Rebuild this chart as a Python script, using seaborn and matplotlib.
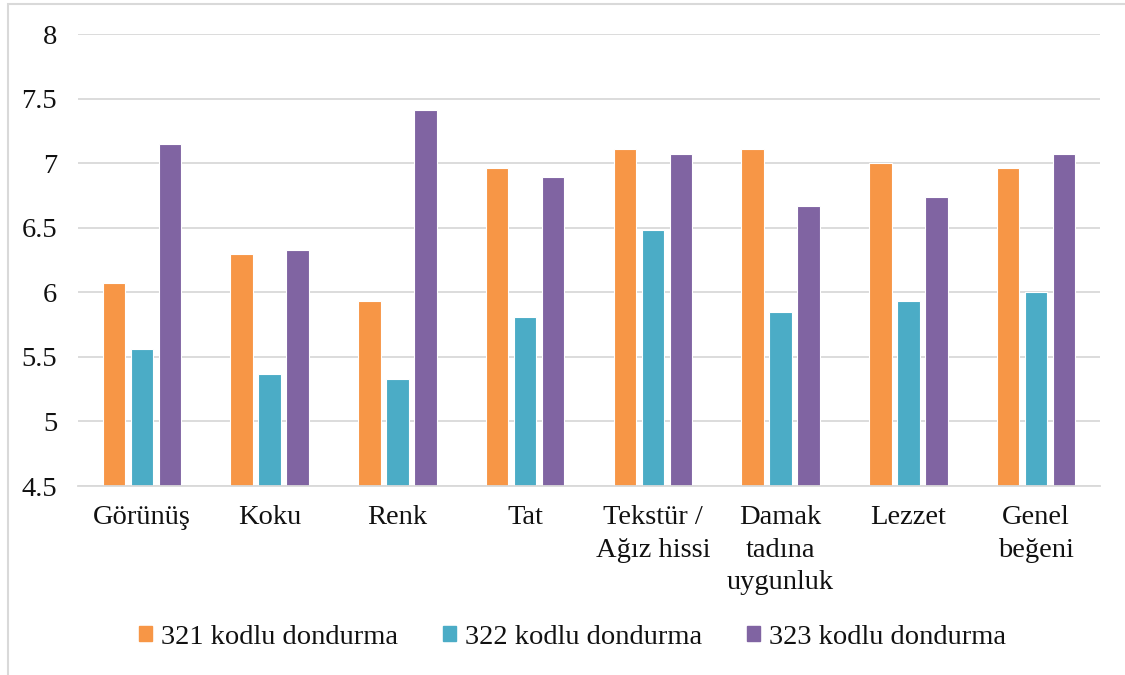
import pandas as pd
import numpy as np
import matplotlib.pyplot as plt
import matplotlib.patches as mpatches
import seaborn as sns

# ---- data ----
categories = ["Görünüş", "Koku", "Renk", "Tat", "Tekstür /\nAğız hissi",
              "Damak\ntadına\nuygunluk", "Lezzet", "Genel\nbeğeni"]
series_names = ["321 kodlu dondurma", "322 kodlu dondurma", "323 kodlu dondurma"]
vals_321 = [6.07, 6.30, 5.93, 6.96, 7.11, 7.11, 7.00, 6.96]
vals_322 = [5.56, 5.37, 5.33, 5.81, 6.48, 5.85, 5.93, 6.00]
vals_323 = [7.15, 6.33, 7.41, 6.89, 7.07, 6.67, 6.74, 7.07]
y_ticks = [4.5, 5, 5.5, 6, 6.5, 7, 7.5, 8]

colors = ["#F79646", "#4BACC6", "#8064A2"]

df = pd.DataFrame({
    "kategori": categories * 3,
    "seri": np.repeat(series_names, len(categories)),
    "deger": vals_321 + vals_322 + vals_323,
})

sns.set_theme(style="white")
plt.rcParams["font.family"] = ["Liberation Serif", "DejaVu Serif"]
FS = 20.5

fig = plt.figure(figsize=(11.25, 6.75), dpi=100)
ax = fig.add_axes([78 / 1125, 1 - 486 / 675, 1022 / 1125, 452 / 675])

sns.barplot(data=df, x="kategori", y="deger", hue="seri",
            palette=colors, saturation=1, width=0.66, gap=0.2, ax=ax,
            edgecolor="white", linewidth=0.8, legend=False)

ax.set_ylim(4.5, 8)
ax.set_xlim(-0.5, len(categories) - 0.5)
ax.set_yticks(y_ticks)
ax.set_yticklabels([f"{t:g}" for t in y_ticks])
ax.yaxis.grid(True, color="#D9D9D9", lw=1.3)
ax.set_axisbelow(True)
for s in ["top", "right", "left"]:
    ax.spines[s].set_visible(False)
ax.spines["bottom"].set_color("#D9D9D9")
ax.spines["bottom"].set_linewidth(1.3)
ax.tick_params(axis="y", length=0, pad=15, labelsize=FS, colors="#111111")
ax.tick_params(axis="x", length=0, pad=14, labelsize=FS, colors="#111111")
for lbl in ax.get_xticklabels():
    lbl.set_verticalalignment("top")
    lbl.set_linespacing(1.38)
ax.set_xlabel("")
ax.set_ylabel("")

handles = [mpatches.Patch(color=c, label=n) for c, n in zip(colors, series_names)]
fig.legend(handles=handles, loc="center", bbox_to_anchor=(0.509, 1 - 637 / 675),
           ncol=3, frameon=False, fontsize=FS, handlelength=0.45, handleheight=0.45,
           handletextpad=0.3, columnspacing=1.6, labelcolor="#111111")

# chart frame (only left and top edges fall inside the picture)
fig.patches.append(mpatches.Rectangle((8 / 1125, -0.1), 1.2, 1 - 4 / 675 + 0.1,
                                      transform=fig.transFigure, fill=False,
                                      edgecolor="#D9D9D9", lw=1.5))

fig.savefig("out.png", dpi=100)
